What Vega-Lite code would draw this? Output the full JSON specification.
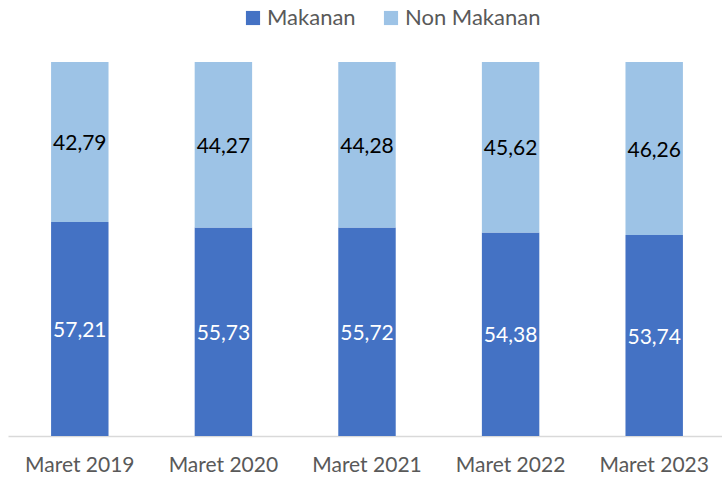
{
  "$schema": "https://vega.github.io/schema/vega-lite/v6.json",
  "autosize": {"type": "none"},
  "width": 718,
  "height": 374,
  "padding": {"left": 8, "top": 62, "right": 0, "bottom": 42},
  "background": "white",
  "config": {
    "font": "Lato",
    "view": {"stroke": null}
  },
  "data": {
    "values": [
      {"tahun": "Maret 2019", "kategori": "Makanan", "urut": 1, "nilai": 57.21, "label": "57,21"},
      {"tahun": "Maret 2019", "kategori": "Non Makanan", "urut": 2, "nilai": 42.79, "label": "42,79"},
      {"tahun": "Maret 2020", "kategori": "Makanan", "urut": 1, "nilai": 55.73, "label": "55,73"},
      {"tahun": "Maret 2020", "kategori": "Non Makanan", "urut": 2, "nilai": 44.27, "label": "44,27"},
      {"tahun": "Maret 2021", "kategori": "Makanan", "urut": 1, "nilai": 55.72, "label": "55,72"},
      {"tahun": "Maret 2021", "kategori": "Non Makanan", "urut": 2, "nilai": 44.28, "label": "44,28"},
      {"tahun": "Maret 2022", "kategori": "Makanan", "urut": 1, "nilai": 54.38, "label": "54,38"},
      {"tahun": "Maret 2022", "kategori": "Non Makanan", "urut": 2, "nilai": 45.62, "label": "45,62"},
      {"tahun": "Maret 2023", "kategori": "Makanan", "urut": 1, "nilai": 53.74, "label": "53,74"},
      {"tahun": "Maret 2023", "kategori": "Non Makanan", "urut": 2, "nilai": 46.26, "label": "46,26"}
    ]
  },
  "encoding": {
    "x": {
      "field": "tahun",
      "type": "nominal",
      "sort": null,
      "scale": {"paddingInner": 0.6, "paddingOuter": 0.3},
      "axis": {
        "title": null,
        "labelAngle": 0,
        "labelFontSize": 21,
        "labelColor": "#595959",
        "labelPadding": 18,
        "ticks": false,
        "domainColor": "#d9d9d9",
        "domainWidth": 1.5
      }
    },
    "y": {
      "field": "nilai",
      "type": "quantitative",
      "stack": "zero",
      "scale": {"domain": [0, 100], "nice": false},
      "axis": null
    },
    "order": {"field": "urut", "type": "quantitative"}
  },
  "layer": [
    {
      "mark": {"type": "bar"},
      "encoding": {
        "color": {
          "field": "kategori",
          "type": "nominal",
          "scale": {"domain": ["Makanan", "Non Makanan"], "range": ["#4472C4", "#9DC3E6"]},
          "legend": {
            "title": null,
            "orient": "none",
            "direction": "horizontal",
            "legendX": 234,
            "legendY": -55,
            "symbolType": "square",
            "symbolSize": 200,
            "symbolStrokeWidth": 0,
            "labelFontSize": 22,
            "labelColor": "#595959",
            "columnPadding": 24,
            "labelOffset": 3
          }
        }
      }
    },
    {
      "mark": {"type": "text", "fontSize": 21, "baseline": "middle", "dy": 2},
      "encoding": {
        "y": {"field": "nilai", "type": "quantitative", "stack": "zero", "bandPosition": 0.5},
        "text": {"field": "label"},
        "fill": {
          "field": "kategori",
          "type": "nominal",
          "scale": {"domain": ["Makanan", "Non Makanan"], "range": ["#ffffff", "#000000"]},
          "legend": null
        }
      }
    }
  ]
}
